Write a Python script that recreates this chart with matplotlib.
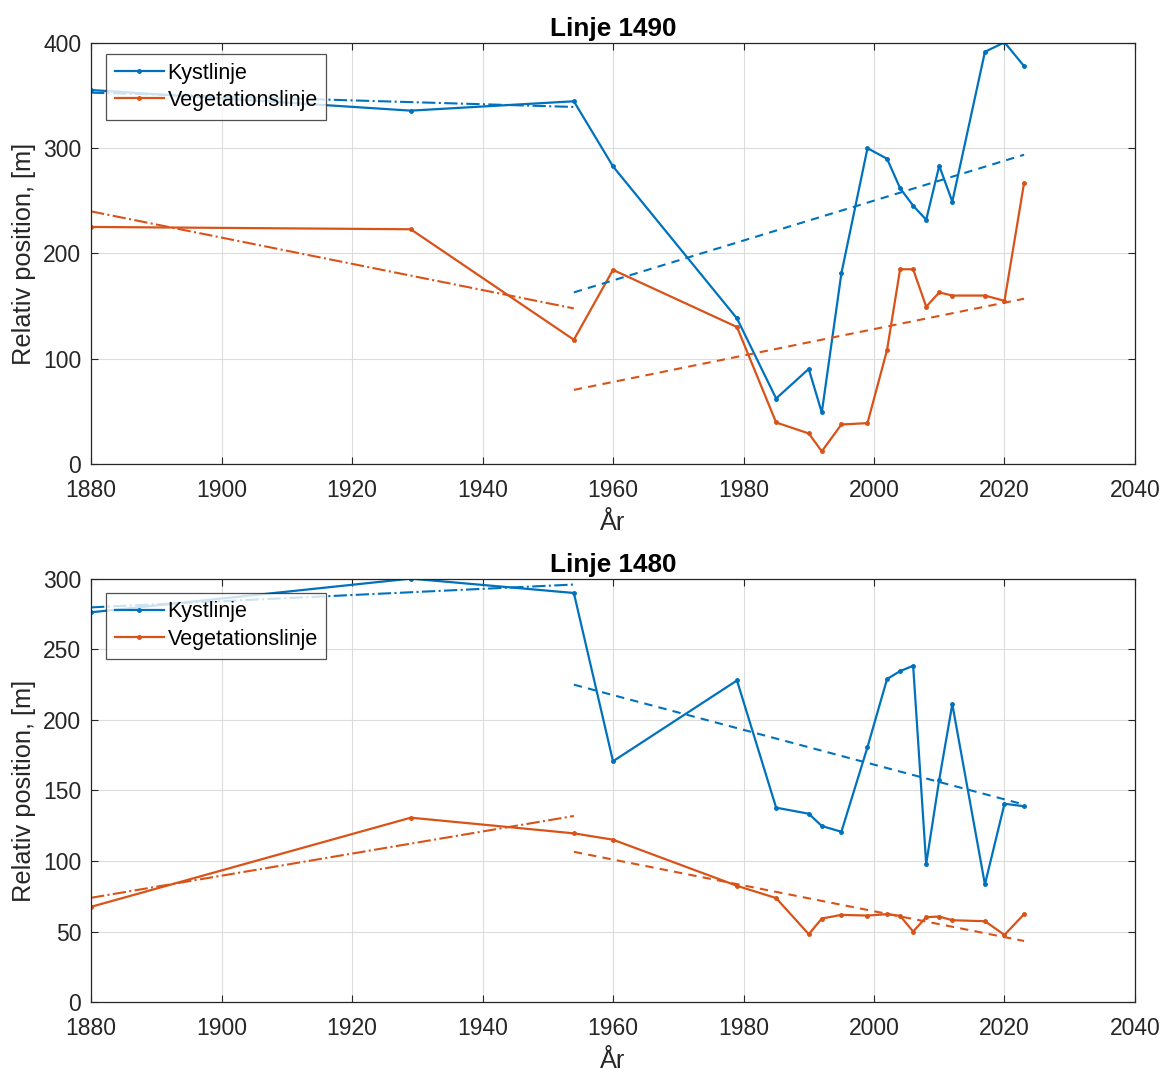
import matplotlib
matplotlib.use("Agg")
import matplotlib.pyplot as plt

plt.rcParams["font.family"] = ["Liberation Sans", "DejaVu Sans"]

BLUE = "#0072BD"
ORANGE = "#D95319"

# survey years shared by both transects
years = [1880, 1929, 1954, 1960, 1979, 1985, 1990, 1992, 1995, 1999,
         2002, 2004, 2006, 2008, 2010, 2012, 2017, 2020, 2023]

# Linje 1490
kyst_1490 = [355.3, 335.7, 344.6, 282.7, 138.3, 62.2, 90.3, 48.9, 181.0, 300.0,
             290.0, 262.0, 245.4, 232.0, 283.3, 249.2, 391.6, 400.6, 378.0]
veg_1490 = [225.2, 223.0, 118.0, 184.4, 130.1, 39.4, 29.0, 12.0, 37.5, 38.8,
            108.3, 185.0, 185.0, 149.4, 163.0, 160.0, 160.0, 155.0, 267.0]

# Linje 1480
kyst_1480 = [276.3, 300.2, 290.0, 170.7, 228.0, 137.8, 133.5, 124.8, 120.7, 180.7,
             229.0, 234.6, 238.4, 97.8, 157.7, 211.2, 83.4, 140.6, 138.8]
veg_1480 = [67.5, 130.7, 119.6, 115.1, 82.4, 73.7, 48.1, 59.2, 61.8, 61.3,
            62.3, 61.1, 50.0, 60.2, 60.6, 58.0, 57.3, 47.6, 62.3]

# trend lines: before and after 1954
early_years = [1880, 1954]
late_years = [1954, 2023]
trend_1490 = {
    "kyst_early": [352.8, 339.2], "veg_early": [240.0, 147.8],
    "kyst_late": [163.0, 293.8], "veg_late": [70.4, 157.0],
}
trend_1480 = {
    "kyst_early": [279.8, 296.0], "veg_early": [73.9, 131.9],
    "kyst_late": [225.0, 140.0], "veg_late": [106.5, 43.3],
}

panels = [
    ("Linje 1490", kyst_1490, veg_1490, trend_1490, 400, [0, 100, 200, 300, 400], 0.974),
    ("Linje 1480", kyst_1480, veg_1480, trend_1480, 300, [0, 50, 100, 150, 200, 250, 300], 0.967),
]

fig = plt.figure(figsize=(11.73, 10.74), dpi=100)
ax_top = fig.add_axes([0.0776, 0.568, 0.890, 0.392])
ax_bot = fig.add_axes([0.0776, 0.067, 0.890, 0.394])

for ax, (title, kyst, veg, trend, ymax, yticks, leg_y) in zip([ax_top, ax_bot], panels):
    ax.plot(years, kyst, "-", color=BLUE, lw=1.6, marker=".", ms=5, label="Kystlinje")
    ax.plot(years, veg, "-", color=ORANGE, lw=1.6, marker=".", ms=5, label="Vegetationslinje")

    ax.plot(early_years, trend["kyst_early"], "-.", color=BLUE, lw=1.5)
    ax.plot(early_years, trend["veg_early"], "-.", color=ORANGE, lw=1.5)
    ax.plot(late_years, trend["kyst_late"], "--", color=BLUE, lw=1.5, dashes=(4, 3))
    ax.plot(late_years, trend["veg_late"], "--", color=ORANGE, lw=1.5, dashes=(4, 3))

    ax.set_xlim(1880, 2040)
    ax.set_ylim(0, ymax)
    ax.set_xticks(range(1880, 2041, 20))
    ax.set_yticks(yticks)
    ax.grid(True, color="#dcdcdc", lw=0.8)
    ax.set_axisbelow(True)
    ax.tick_params(direction="in", length=5, width=0.8, labelsize=16.5,
                   colors="#262626", top=True, right=True, labeltop=False, labelright=False)
    ax.tick_params(axis="x", pad=11)
    ax.tick_params(axis="y", pad=7)
    for sp in ax.spines.values():
        sp.set_color("#262626")
        sp.set_linewidth(0.9)

    ax.set_title(title, fontsize=18.8, fontweight="bold", pad=5)
    ax.set_xlabel("År", fontsize=18.3, color="#262626", labelpad=6)
    ax.set_ylabel("Relativ position, [m]", fontsize=18.3, color="#262626", labelpad=5)

    leg = ax.legend(loc="upper left", bbox_to_anchor=(0.0144, leg_y), fontsize=15.5,
                    frameon=True, fancybox=False, borderpad=0.4, handlelength=2.3,
                    handletextpad=0.15, labelspacing=0.3, borderaxespad=0.0)
    leg.get_frame().set_edgecolor("#262626")
    leg.get_frame().set_linewidth(0.9)

fig.savefig("out.png", dpi=100)
